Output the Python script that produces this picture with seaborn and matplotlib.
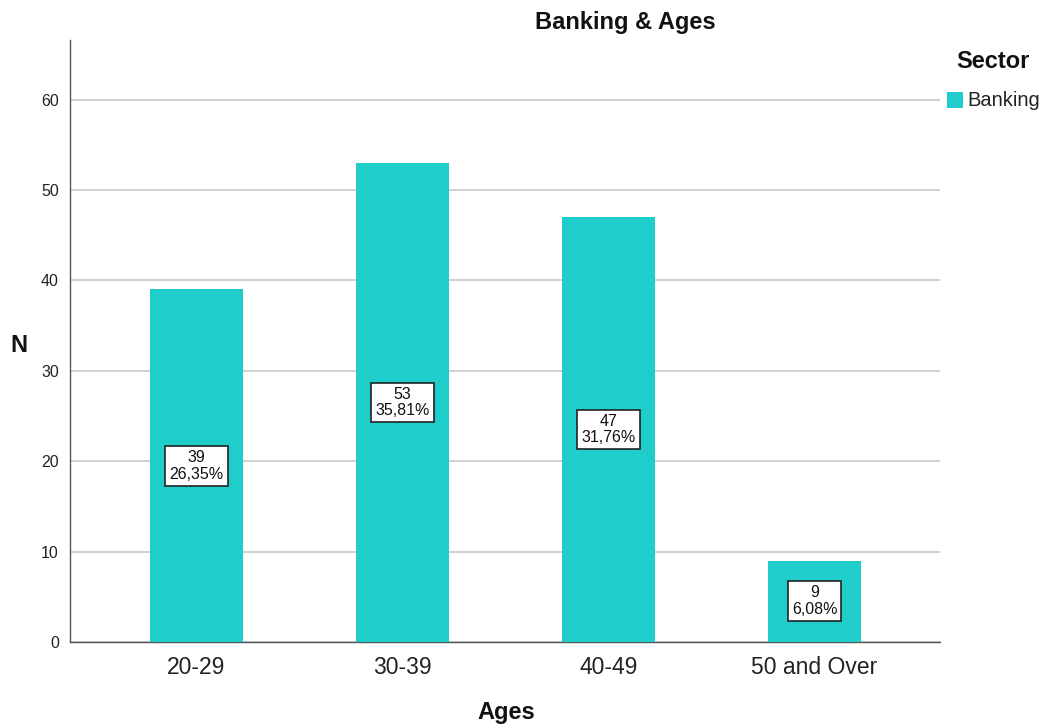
import matplotlib
matplotlib.use("Agg")
import matplotlib.pyplot as plt
import seaborn as sns
import pandas as pd

ages = ["20-29", "30-39", "40-49", "50 and Over"]
counts = [39, 53, 47, 9]
percents = ["26,35%", "35,81%", "31,76%", "6,08%"]
sector = "Banking"

sns.set_theme(style="white")
plt.rcParams["font.family"] = ["Liberation Sans", "DejaVu Sans"]

df = pd.DataFrame({"Ages": ages, "N": counts, "Sector": [sector] * len(ages)})

fig = plt.figure(figsize=(10.46, 7.26), dpi=100)
ax = fig.add_axes([0.0669, 0.1157, 0.8318, 0.8292])

bar_color = "#1fcdcb"
sns.barplot(data=df, x="Ages", y="N", color=bar_color, width=0.45,
            saturation=1, ax=ax, zorder=3, edgecolor="none")

ax.set_ylim(0, 66.6)
ax.set_xlim(-0.614, 3.609)
ax.set_yticks([0, 10, 20, 30, 40, 50, 60])
ax.yaxis.grid(True, color="#c8c8c8", linewidth=1.2, zorder=0)
ax.set_axisbelow(True)
for s in ["top", "right"]:
    ax.spines[s].set_visible(False)
for s in ["left", "bottom"]:
    ax.spines[s].set_color("#555555")
    ax.spines[s].set_linewidth(1.0)

ax.tick_params(axis="y", labelsize=11.5, colors="#222222", length=0, pad=8)
ax.tick_params(axis="x", labelsize=16.5, colors="#222222", length=0, pad=10)
ax.set_xlabel("")
ax.set_ylabel("")

for i, (n, p) in enumerate(zip(counts, percents)):
    ax.text(i, n / 2, f"{n}\n{p}", ha="center", va="center", fontsize=11.5,
            color="#111111", linespacing=1.15, zorder=5,
            bbox=dict(boxstyle="square,pad=0.25", fc="white", ec="#222222", lw=1.2))

fig.text(625 / 1046, 1 - 22 / 726, "Banking & Ages", ha="center", va="center",
         fontsize=17, fontweight="bold", color="#111111")
fig.text(19 / 1046, 1 - 345 / 726, "N", ha="center", va="center",
         fontsize=17, fontweight="bold", color="#111111")
fig.text(506 / 1046, 1 - 713 / 726, "Ages", ha="center", va="center",
         fontsize=17, fontweight="bold", color="#111111")

# Legend
fig.text(993 / 1046, 1 - 62 / 726, "Sector", ha="center", va="center",
         fontsize=17, fontweight="bold", color="#111111")
fig.patches.append(plt.Rectangle((947 / 1046, 1 - 108 / 726), 16 / 1046, 16 / 726,
                                 transform=fig.transFigure, fc=bar_color, ec="none"))
fig.text(967 / 1046, 1 - 100 / 726, sector, ha="left", va="center",
         fontsize=14.5, color="#222222")

fig.savefig("out.png", dpi=100, facecolor="white")
